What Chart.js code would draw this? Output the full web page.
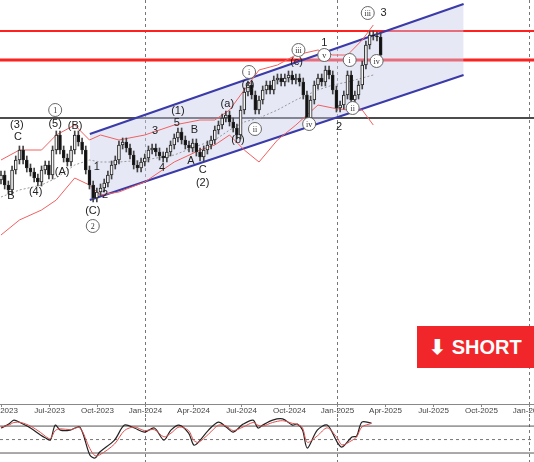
<!DOCTYPE html>
<html><head><meta charset="utf-8">
<script src="https://cdn.jsdelivr.net/npm/chart.js@4"></script>
<style>
body{margin:0;background:#fff;width:534px;height:462px;overflow:hidden;position:relative;font-family:"Liberation Sans",Arial,sans-serif}
#c1{position:absolute;left:0;top:0}
#c2{position:absolute;left:0;top:418px}
#short{position:absolute;left:417px;top:326px;width:117px;height:42px;background:#f0262a;color:#fff;font:bold 20px "Liberation Sans",Arial,sans-serif;display:flex;align-items:center;justify-content:center}
</style></head><body>
<canvas id="c1" width="534" height="418"></canvas>
<canvas id="c2" width="534" height="44"></canvas>
<div id="short">⬇ SHORT</div>
<script>
const quarterLabels=['Apr-2023','Jul-2023','Oct-2023','Jan-2024','Apr-2024','Jul-2024','Oct-2024','Jan-2025','Apr-2025','Jul-2025','Oct-2025','Jan-2026'];
const closes=[225,215,210,230,240,250,240,232,228,222,218,230,235,225,250,265,250,242,238,250,265,258,250,230,215,202,208,212,217,225,235,240,255,258,252,245,235,232,238,242,250,252,248,244,242,248,255,262,268,260,255,252,257,248,243,250,255,260,270,275,282,285,278,272,265,290,308,315,305,290,300,310,315,310,320,322,318,322,325,320,322,318,305,282,300,315,322,318,330,325,310,292,295,305,325,300,305,315,335,355,365,364,363,345];
const firstOpen=220;
const bandWeeks=[0,5,11,15,20,24,27,32,39,47,54,58,62,66,70,75,80,86,90,94,98,101];
const bandUpper=[240,250,250,265,275,260,265,260,265,275,280,280,290,310,330,335,345,350,345,345,360,375];
const bandLower=[165,180,190,200,222,215,205,208,218,238,250,255,265,250,238,260,275,295,292,290,290,275];
const bandMid=[203,210,215,222,235,240,238,238,240,245,255,260,270,278,282,290,300,310,315,318,322,325];
const channelWeeks=[24.1,125.5];
const channelUpper=[266,396];
const channelLower=[200,325];
const redLevels=[369,340];
const blackLevel=282;
const labelText=['(3)','C','B','(4)','1','(5)','(B)','(A)','(C)','2','1','2','3','4','(1)','5','B','A','C','(2)','(a)','(b)','(c)','i','ii','iii','(c)','1','v','iv','2','ii','i','iii','3','iv'];
const labelWeek=[4.3,4.6,2.7,9.4,14.7,14.7,20.1,16.6,24.9,24.9,26,28.2,41.8,43.7,48,47.7,52.5,51.5,54.7,54.7,61.4,64.3,67,67.3,68.9,80.7,80.2,87.7,87.7,83.6,91.7,95.4,94.6,99.5,103.8,101.9];
const labelPrice=[275,263,204,208,290,276,274,228,189,174,233,205,269,232,289,277,270,239,230,217,296,260,315,328,271,350,338,357,345,276,273,292,340,387,387,339];
const labelCircle=[0,0,0,0,1,0,0,0,0,1,0,0,0,0,0,0,0,0,0,0,0,0,0,1,1,1,0,0,1,1,0,1,1,1,0,1];
const oscWeeks=[0,2.1,3.5,5.4,8,10.7,12.1,13.4,14.7,16.1,18.8,21.4,24.1,25.5,26.8,30.8,33.5,36.2,38.9,41.6,44.2,46.1,48.3,50.9,52.3,53.6,56.3,59,61.1,63,65.7,68.4,69.7,71,73.7,76.4,79.1,80.4,81.8,83.1,85.8,88.5,91.2,92.5,95.2,96.5,97.9,100.5];
const oscMain=[75.6,84.4,93.3,86.7,75.6,60,53.3,48.9,82.2,71.1,71.1,77.8,15.6,8.9,22.2,48.9,82.2,75.6,66.7,75.6,48.9,71.1,82.2,64.4,37.8,44.4,71.1,88.9,77.8,66.7,84.4,93.3,75.6,82.2,93.3,96,82.2,84.4,71.1,31.1,71.1,82.2,44.4,33.3,55.6,57.8,88.9,86.7];
const oscSignal=[78,82,88,88,80,66,57,52,70,74,72,76,30,14,16,40,70,78,70,72,56,64,78,70,48,44,62,82,80,70,78,88,82,80,88,92,86,84,76,44,58,76,54,38,48,56,78,86];

const XMIN=-0.27, XMAX=144.6, QW=13.03;
const opens=closes.map((c,i)=>i?closes[i-1]:firstOpen);
const bodies=closes.map((c,i)=>({x:i,y:[Math.min(opens[i],c),Math.max(opens[i],c)]}));
const wicks=closes.map((c,i)=>({x:i,y:[Math.min(opens[i],c)-4,Math.max(opens[i],c)+4]}));
const bodyColors=closes.map((c,i)=>c>=opens[i]?'#f4f4f4':'#111');
const pts=(xs,ys)=>xs.map((x,i)=>({x,y:ys[i]}));
const hline=(v,col,w)=>({type:'line',data:[{x:XMIN,y:v},{x:XMAX,y:v}],borderColor:col,borderWidth:w,pointRadius:0,order:5});

const overlay={id:'overlay',
 beforeDatasetsDraw(ch){const{ctx,chartArea:a,scales:{x}}=ch;ctx.save();ctx.setLineDash([3,3]);ctx.strokeStyle='#777';ctx.lineWidth=1;
  [3,7,11].forEach(q=>{const px=Math.round(x.getPixelForValue(q*QW))+0.5;ctx.beginPath();ctx.moveTo(px,0);ctx.lineTo(px,ch.height);ctx.stroke();});ctx.restore();},
 afterDatasetsDraw(ch){if(ch.canvas.id!=='c1')return;const{ctx,chartArea:a,scales:{x,y}}=ch;ctx.save();
  ctx.strokeStyle='#888';ctx.lineWidth=1;ctx.beginPath();ctx.moveTo(0,a.bottom+0.5);ctx.lineTo(ch.width,a.bottom+0.5);ctx.stroke();
  ctx.textAlign='center';ctx.textBaseline='top';ctx.fillStyle='#444';ctx.font='8px "Liberation Sans",Arial,sans-serif';
  quarterLabels.forEach((l,i)=>{const px=Math.round(x.getPixelForValue(i*QW))+0.5;ctx.beginPath();ctx.moveTo(px,a.bottom);ctx.lineTo(px,a.bottom+3);ctx.stroke();ctx.fillText(l,px,a.bottom+3);});
  ctx.textBaseline='middle';
  labelText.forEach((t,i)=>{const px=x.getPixelForValue(labelWeek[i]),py=y.getPixelForValue(labelPrice[i]);
   if(labelCircle[i]){ctx.beginPath();ctx.arc(px,py,6.5,0,Math.PI*2);ctx.fillStyle='#fff';ctx.fill();ctx.strokeStyle='#666';ctx.lineWidth=1;ctx.stroke();ctx.fillStyle='#333';ctx.font='8px "Liberation Serif",serif';ctx.fillText(t,px,py+0.5);}
   else{ctx.fillStyle='#222';ctx.font='11px "Liberation Sans",Arial,sans-serif';ctx.fillText(t,px,py);}});
  ctx.restore();}};

const baseOpts=(ymin,ymax,padB)=>({animation:false,responsive:false,events:[],layout:{padding:{left:0,right:0,top:0,bottom:padB}},plugins:{legend:{display:false},tooltip:{enabled:false}},
  scales:{x:{type:'linear',min:XMIN,max:XMAX,display:false,offset:false,grid:{offset:false}},y:{min:ymin,max:ymax,display:false}}});

new Chart(document.getElementById('c1'),{type:'bar',
 data:{datasets:[
  {type:'line',data:pts(channelWeeks,channelLower),borderColor:'#3a3aa8',borderWidth:2,pointRadius:0,order:4},
  {type:'line',data:pts(channelWeeks,channelUpper),borderColor:'#3a3aa8',borderWidth:2,pointRadius:0,fill:'-1',backgroundColor:'rgba(200,205,235,0.45)',order:4},
  hline(redLevels[0],'#ff2020',2),hline(redLevels[1],'#ff2020',3),hline(blackLevel,'#111',1.5),
  {type:'line',data:pts(bandWeeks,bandUpper),borderColor:'#f06060',borderWidth:1,pointRadius:0,order:3},
  {type:'line',data:pts(bandWeeks,bandLower),borderColor:'#f06060',borderWidth:1,pointRadius:0,order:3},
  {type:'line',data:pts(bandWeeks,bandMid),borderColor:'#999',borderWidth:1,borderDash:[2,2],pointRadius:0,order:3},
  {data:wicks,backgroundColor:'#444',barThickness:1,grouped:false,order:2},
  {data:bodies,backgroundColor:bodyColors,borderColor:'#222',borderWidth:1,borderSkipped:false,barThickness:3,grouped:false,order:1}
 ]},
 options:baseOpts(-4,400,14),
 plugins:[overlay]});

new Chart(document.getElementById('c2'),{type:'line',
 data:{datasets:[
  {data:pts(oscWeeks,oscSignal),borderColor:'#e05050',borderWidth:1,pointRadius:0,tension:0.3},
  {data:pts(oscWeeks,oscMain),borderColor:'#222',borderWidth:1.2,pointRadius:0,tension:0.3},
  hline(80,'#555',1),{...hline(50,'#777',1),borderDash:[3,3]},hline(20,'#555',1)]},
 options:baseOpts(0,98,0),
 plugins:[overlay]});
</script></body></html>
